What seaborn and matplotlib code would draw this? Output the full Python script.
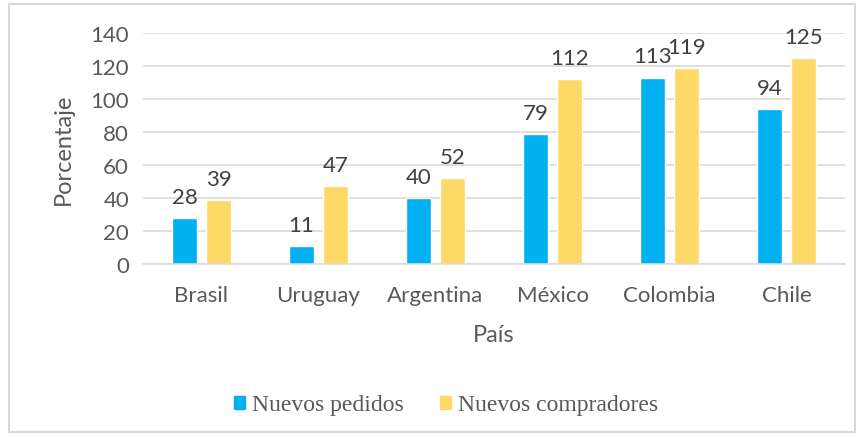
import pandas as pd
import matplotlib.pyplot as plt
import seaborn as sns
from matplotlib.patches import Rectangle

paises = ["Brasil", "Uruguay", "Argentina", "México", "Colombia", "Chile"]
nuevos_pedidos = [28, 11, 40, 79, 113, 94]
nuevos_compradores = [39, 47, 52, 112, 119, 125]
series = ["Nuevos pedidos", "Nuevos compradores"]
colores = ["#00B0F0", "#FFD966"]
yticks = [0, 20, 40, 60, 80, 100, 120, 140]

sns.set_theme(style="white")
plt.rcParams["font.family"] = ["Lato", "DejaVu Sans"]
gris = "#595959"

df = pd.DataFrame({
    "País": paises * 2,
    "Porcentaje": nuevos_pedidos + nuevos_compradores,
    "Serie": [series[0]] * len(paises) + [series[1]] * len(paises),
})

fig = plt.figure(figsize=(8.65, 4.39), dpi=100)
ax = fig.add_axes([0.1653, 0.3964, 0.8116, 0.526])

sns.barplot(data=df, x="País", y="Porcentaje", hue="Serie", palette=colores,
            width=0.58, gap=0.24, ax=ax, legend=False, saturation=1)

for cont in ax.containers:
    ax.bar_label(cont, padding=8, fontsize=16, color="#404040")

ax.set_ylim(0, 140)
ax.set_yticks(yticks)
ax.set_xlim(-0.5, len(paises) - 0.5)
ax.yaxis.grid(True, color="#D9D9D9", linewidth=1.2)
ax.set_axisbelow(True)
for s in ["top", "right", "left"]:
    ax.spines[s].set_visible(False)
ax.spines["bottom"].set_color("#D9D9D9")
ax.spines["bottom"].set_linewidth(1.2)
ax.tick_params(axis="both", length=0, labelsize=16, colors=gris)
ax.tick_params(axis="x", pad=15)
ax.tick_params(axis="y", pad=10)
ax.set_xlabel("País", fontsize=17, color=gris, labelpad=14)
ax.set_ylabel("Porcentaje", fontsize=17, color=gris, labelpad=12)

handles = [Rectangle((0, 0), 1, 1, color=c) for c in colores]
fig.legend(handles, series, loc="center", bbox_to_anchor=(446 / 865, 1 - 406 / 439),
           ncol=2, frameon=False, handlelength=0.47, handleheight=0.47,
           handletextpad=0.3, columnspacing=1.55,
           prop={"family": "Liberation Serif", "size": 17}, labelcolor=gris)

fig.patches.append(Rectangle((9 / 865, 6 / 439), 846 / 865, 428 / 439,
                             transform=fig.transFigure, fill=False,
                             edgecolor="#D9D9D9", linewidth=1.5))

fig.savefig("out.png", dpi=100)
